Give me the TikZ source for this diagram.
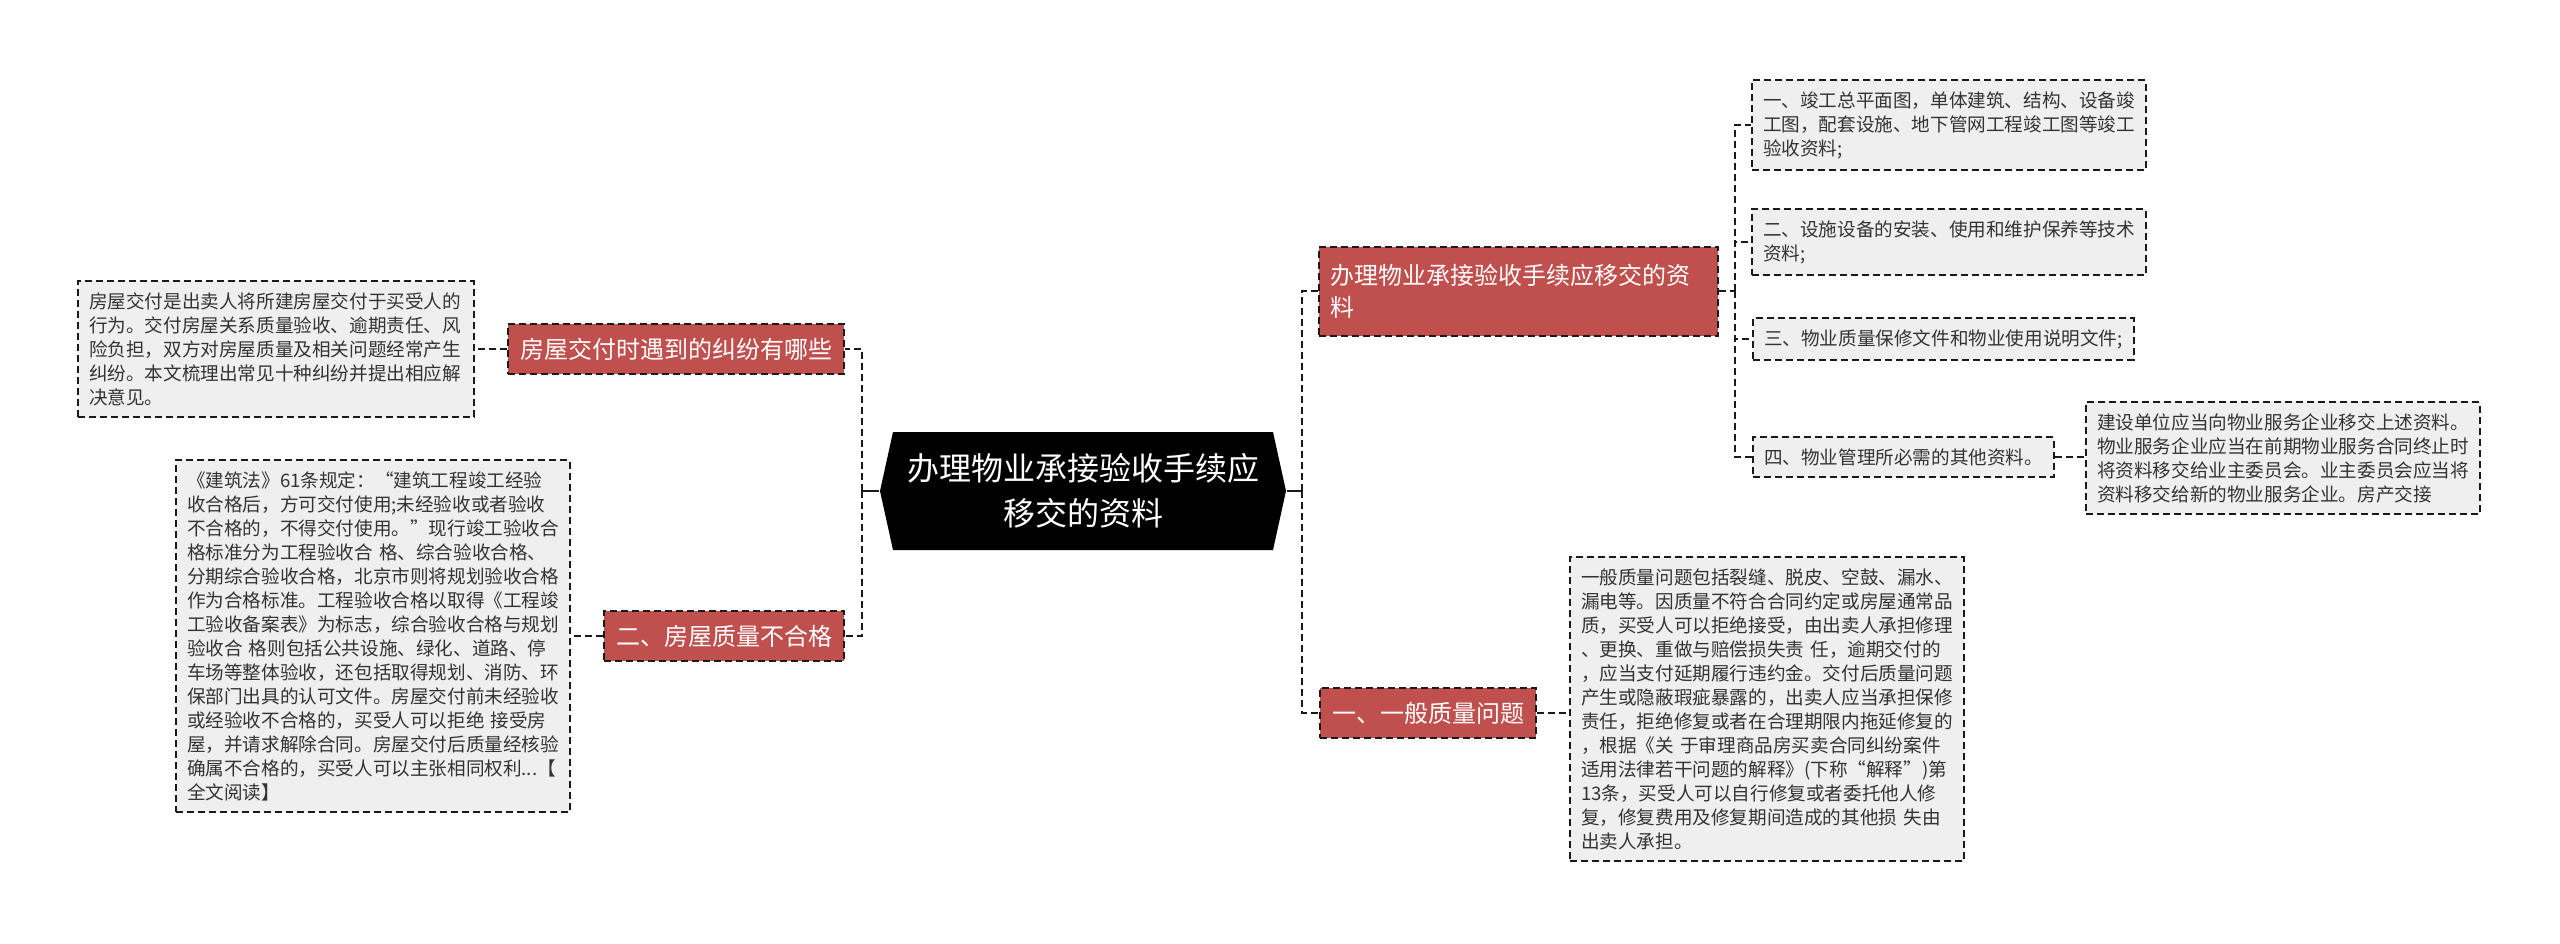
\documentclass[tikz,border=0pt]{standalone}
\usepackage{fontspec}
\setmainfont{Noto Sans CJK SC}
\definecolor{redfill}{HTML}{C0504D}
\definecolor{leaffill}{HTML}{EFEFEF}
\definecolor{edgecol}{HTML}{1A1A1A}
\definecolor{txtcol}{HTML}{333333}
\tikzset{
  conn/.style={draw=edgecol, line width=2.6pt, dash pattern=on 7pt off 4pt},
  redbox/.style={fill=redfill, draw=edgecol, line width=2pt, dash pattern=on 7pt off 4pt,
    text=white, font=\fontsize{24}{32}\selectfont, inner xsep=12pt, inner ysep=10pt,
    minimum height=50pt, align=left},
  leaf/.style={fill=leaffill, draw=edgecol, line width=2pt, dash pattern=on 7pt off 4pt,
    text=txtcol, font=\fontsize{18.6}{24}\selectfont, inner xsep=11pt, inner ysep=11pt, align=left},
  rootbox/.style={text=white, font=\fontsize{32}{45}\selectfont, align=center,
    minimum width=408pt, minimum height=118pt, inner sep=0pt}
}
\begin{document}
\begin{tikzpicture}[x=1pt,y=-1pt]
\useasboundingbox (0,0) rectangle (2560,943);
\fill[white] (0,0) rectangle (2560,943);

% root hexagon
\fill[black] (880,491) -- (893,432) -- (1273,432) -- (1286,491) -- (1273,550) -- (893,550) -- cycle;
\node[rootbox] (c) at (1083,491) {办理物业承接验收手续应\\移交的资料};

% left branch nodes
\node[redbox] (ln1) at (676,349) {房屋交付时遇到的纠纷有哪些};
\node[redbox] (ln2) at (724,636) {二、房屋质量不合格};

\node[leaf, text width=374pt] (l1) at (276,349) {房屋交付是出卖人将所建房屋交付于买受人的\\行为。交付房屋关系质量验收、逾期责任、风\\险负担，双方对房屋质量及相关问题经常产生\\纠纷。本文梳理出常见十种纠纷并提出相应解\\决意见。};

\node[leaf, text width=372pt] (l2) at (373,636) {《建筑法》61条规定：“建筑工程竣工经验\\收合格后，方可交付使用;未经验收或者验收\\不合格的，不得交付使用。”现行竣工验收合\\格标准分为工程验收合 格、综合验收合格、\\分期综合验收合格，北京市则将规划验收合格\\作为合格标准。工程验收合格以取得《工程竣\\工验收备案表》为标志，综合验收合格与规划\\验收合 格则包括公共设施、绿化、道路、停\\车场等整体验收，还包括取得规划、消防、环\\保部门出具的认可文件。房屋交付前未经验收\\或经验收不合格的，买受人可以拒绝 接受房\\屋，并请求解除合同。房屋交付后质量经核验\\确属不合格的，买受人可以主张相同权利...【\\全文阅读】};

% right branch nodes
\node[redbox, text width=375pt, minimum height=89pt] (rn1) at (1518,291) {办理物业承接验收手续应移交的资\\料};
\node[redbox] (rn2) at (1428,713) {一、一般质量问题};

\node[leaf, text width=372pt] (ra) at (1949,125) {一、竣工总平面图，单体建筑、结构、设备竣\\工图，配套设施、地下管网工程竣工图等竣工\\验收资料;};
\node[leaf, text width=372pt] (rb) at (1949,242) {二、设施设备的安装、使用和维护保养等技术\\资料;};
\node[leaf, anchor=west] (rc) at (1752,339) {三、物业质量保修文件和物业使用说明文件;};
\node[leaf, anchor=west] (rd) at (1752,457) {四、物业管理所必需的其他资料。};
\node[leaf, text width=372pt] (rdc) at (2283,458) {建设单位应当向物业服务企业移交上述资料。\\物业服务企业应当在前期物业服务合同终止时\\将资料移交给业主委员会。业主委员会应当将\\资料移交给新的物业服务企业。房产交接};

\node[leaf, text width=372pt] (r2c) at (1767,709) {一般质量问题包括裂缝、脱皮、空鼓、漏水、\\漏电等。因质量不符合合同约定或房屋通常品\\质，买受人可以拒绝接受，由出卖人承担修理\\、更换、重做与赔偿损失责 任，逾期交付的\\，应当支付延期履行违约金。交付后质量问题\\产生或隐蔽瑕疵暴露的，出卖人应当承担保修\\责任，拒绝修复或者在合理期限内拖延修复的\\，根据《关 于审理商品房买卖合同纠纷案件\\适用法律若干问题的解释》(下称“解释”)第\\13条，买受人可以自行修复或者委托他人修\\复，修复费用及修复期间造成的其他损 失由\\出卖人承担。};

% junctions
\coordinate (lj) at (862,491);
\coordinate (rj) at (1302,491);
\coordinate (rj2) at (1735,291);

% connectors
\draw[draw=edgecol, line width=2.6pt] (c.west) -- (lj);
\draw[draw=edgecol, line width=2.6pt] (c.east) -- (rj);
\draw[conn] (lj) |- (ln1.east);
\draw[conn] (lj) |- (ln2.east);
\draw[conn] (rj) |- (rn1.west);
\draw[conn] (rj) |- (rn2.west);
\draw[conn] (ln1.west) -- (l1.east |- ln1.west);
\draw[conn] (ln2.west) -- (l2.east);
\draw[conn] (rn1.east) -- (rj2);
\draw[conn] (rj2) |- (ra.west);
\draw[conn] (rj2) |- (rb.west);
\draw[conn] (rj2) |- (rc.west);
\draw[conn] (rj2) |- (rd.west);
\draw[conn] (rd.east) -- (rdc.west |- rd.east);
\draw[conn] (rn2.east) -- (r2c.west |- rn2.east);
\end{tikzpicture}
\end{document}
